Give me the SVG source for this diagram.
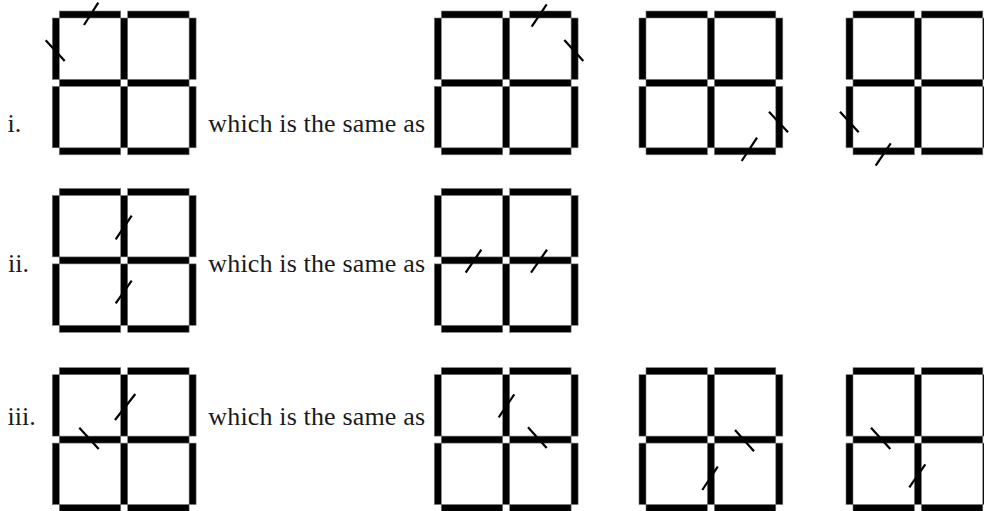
<svg xmlns="http://www.w3.org/2000/svg" xmlns:xlink="http://www.w3.org/1999/xlink" width="984" height="511" viewBox="0 0 984 511">
<style>
.lbl{font-family:"Liberation Serif","Times New Roman",serif;font-size:26px;fill:#1a1a1a}
.m{stroke:#000;stroke-width:2.2;fill:none}
.s{fill:#000;stroke:#777;stroke-width:0.6}
</style>
<defs>
<g id="grid">
<rect class="s" x="7" y="0" width="61.4" height="7"/>
<rect class="s" x="75.4" y="0" width="61.4" height="7"/>
<rect class="s" x="7" y="68.4" width="61.4" height="7"/>
<rect class="s" x="75.4" y="68.4" width="61.4" height="7"/>
<rect class="s" x="7" y="136.8" width="61.4" height="7"/>
<rect class="s" x="75.4" y="136.8" width="61.4" height="7"/>
<rect class="s" x="0" y="7" width="7" height="61.4"/>
<rect class="s" x="68.4" y="7" width="7" height="61.4"/>
<rect class="s" x="136.8" y="7" width="7" height="61.4"/>
<rect class="s" x="0" y="75.4" width="7" height="61.4"/>
<rect class="s" x="68.4" y="75.4" width="7" height="61.4"/>
<rect class="s" x="136.8" y="75.4" width="7" height="61.4"/>
</g>
</defs>
<rect width="984" height="511" fill="#fff"/>
<g id="labels">
<text class="lbl" x="7.5" y="131.7">i.</text>
<text class="lbl" x="208.3" y="131.7" textLength="216.7" lengthAdjust="spacing">which is the same as</text>
<text class="lbl" x="8" y="272">ii.</text>
<text class="lbl" x="208.3" y="272" textLength="216.7" lengthAdjust="spacing">which is the same as</text>
<text class="lbl" x="7.5" y="425">iii.</text>
<text class="lbl" x="208.3" y="425" textLength="216.7" lengthAdjust="spacing">which is the same as</text>
</g>
<g id="row1-grid1"><use xlink:href="#grid" x="52.3" y="11"/>
<line class="m" x1="84" y1="25" x2="98.3" y2="2.7"/><line class="m" x1="45.7" y1="40.3" x2="64.7" y2="61"/></g>
<g id="row1-grid2"><use xlink:href="#grid" x="434.3" y="11"/>
<line class="m" x1="531.7" y1="26.7" x2="546.7" y2="4.3"/><line class="m" x1="564.3" y1="40" x2="583.3" y2="61"/></g>
<g id="row1-grid3"><use xlink:href="#grid" x="639" y="11"/>
<line class="m" x1="769" y1="111.7" x2="788" y2="132.3"/><line class="m" x1="741.7" y1="161" x2="757" y2="137.7"/></g>
<g id="row1-grid4"><use xlink:href="#grid" x="846" y="11"/>
<line class="m" x1="840" y1="111.7" x2="858.7" y2="132.3"/><line class="m" x1="875.7" y1="165.7" x2="890.7" y2="143.3"/></g>
<g id="row2-grid1"><use xlink:href="#grid" x="52.3" y="188.5"/>
<line class="m" x1="115.7" y1="239.3" x2="131.7" y2="215.7"/><line class="m" x1="115.7" y1="303.3" x2="131.7" y2="280.7"/></g>
<g id="row2-grid2"><use xlink:href="#grid" x="434.3" y="188.5"/>
<line class="m" x1="465.7" y1="272.7" x2="481.3" y2="249.7"/><line class="m" x1="531" y1="272.7" x2="547" y2="249.7"/></g>
<g id="row3-grid1"><use xlink:href="#grid" x="52.3" y="367.7"/>
<line class="m" x1="115" y1="420" x2="135.3" y2="394"/><line class="m" x1="79.3" y1="427.7" x2="98.7" y2="449"/></g>
<g id="row3-grid2"><use xlink:href="#grid" x="434.3" y="367.7"/>
<line class="m" x1="498.7" y1="417.3" x2="514.3" y2="394.3"/><line class="m" x1="528" y1="427.3" x2="546.7" y2="448"/></g>
<g id="row3-grid3"><use xlink:href="#grid" x="639" y="367.7"/>
<line class="m" x1="735" y1="430" x2="754" y2="451.3"/><line class="m" x1="702.3" y1="490" x2="717.7" y2="466.7"/></g>
<g id="row3-grid4"><use xlink:href="#grid" x="846" y="367.7"/>
<line class="m" x1="871" y1="427.7" x2="890.3" y2="449"/><line class="m" x1="909.3" y1="487.3" x2="925.3" y2="464.3"/></g>
</svg>
